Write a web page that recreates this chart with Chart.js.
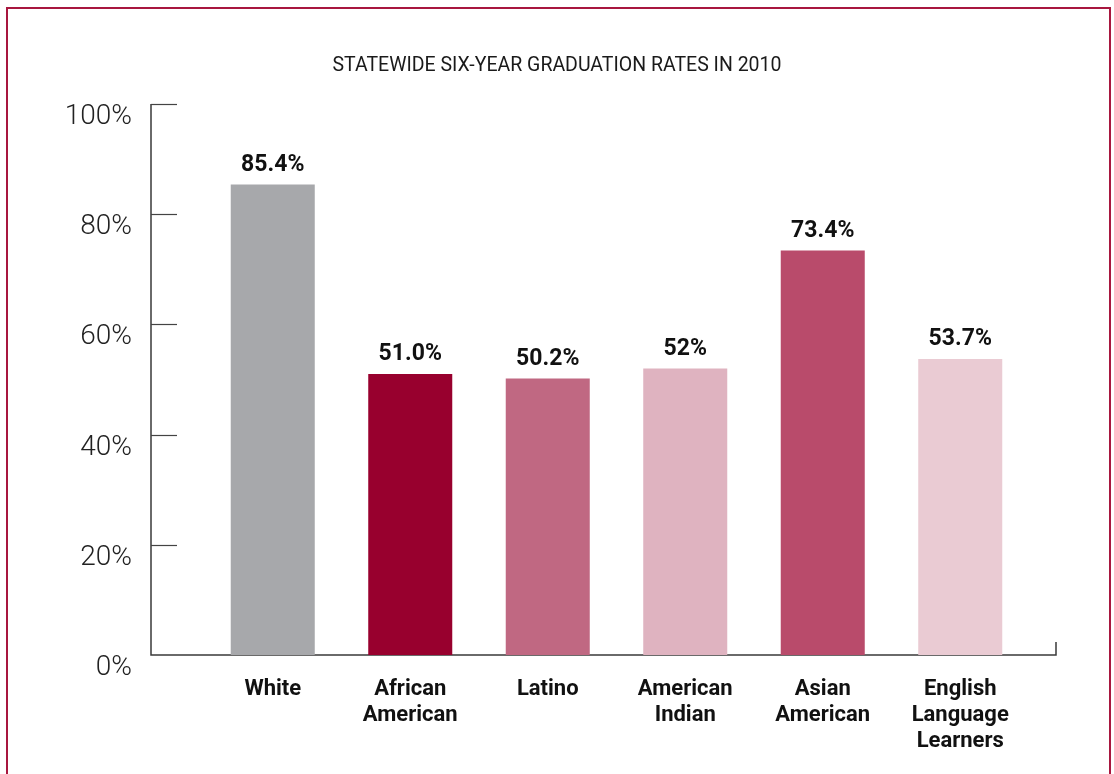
<!DOCTYPE html>
<html>
<head>
<meta charset="utf-8">
<script src="https://cdn.jsdelivr.net/npm/chart.js@4"></script>
<style>
  html, body { margin: 0; padding: 0; background: #ffffff; width: 1114px; height: 774px; overflow: hidden; }
  #frame { position: absolute; left: 6px; top: 7px; width: 1101px; height: 800px;
           border: 2px solid #a8173f; border-bottom: none; }
  #wrap { position: absolute; left: 0; top: 0; width: 1114px; height: 774px; }
</style>
</head>
<body>
<div id="frame"></div>
<div id="wrap"><canvas id="c" width="1114" height="774"></canvas></div>
<script>
const categories = [
  "White",
  ["African", "American"],
  "Latino",
  ["American", "Indian"],
  ["Asian", "American"],
  ["English", "Language", "Learners"]
];
const rates = [85.4, 51.0, 50.2, 52, 73.4, 53.7];
const rateLabels = ["85.4%", "51.0%", "50.2%", "52%", "73.4%", "53.7%"];
const barColors = ["#a7a8ab", "#98002e", "#c06882", "#dfb3c0", "#b94b6b", "#eacbd3"];
const yTicks = [0, 20, 40, 60, 80, 100];
const titleText = "STATEWIDE SIX-YEAR GRADUATION RATES IN 2010";

const FONT = 'Roboto, "Liberation Sans", sans-serif';

const axisPlugin = {
  id: 'axisPlugin',
  beforeDatasetsDraw(chart) {
    const ctx = chart.ctx;
    const y = chart.scales.y;
    const area = chart.chartArea;
    const axisX = area.left - 53;
    const axisRight = area.right + 27;
    const y0 = y.getPixelForValue(0);
    const yTop = y.getPixelForValue(100);
    ctx.save();
    ctx.strokeStyle = '#3a3a3a';
    ctx.lineWidth = 1.5;
    ctx.beginPath();
    ctx.moveTo(axisX, yTop);
    ctx.lineTo(axisX, y0);
    ctx.lineTo(axisRight, y0);
    ctx.lineTo(axisRight, y0 - 13);
    ctx.stroke();
    ctx.lineWidth = 1.2;
    ctx.strokeStyle = '#444';
    yTicks.forEach(v => {
      if (v === 0) return;
      const py = Math.round(y.getPixelForValue(v)) + 0.5;
      ctx.beginPath();
      ctx.moveTo(axisX, py);
      ctx.lineTo(axisX + 26, py);
      ctx.stroke();
    });
    ctx.restore();
  },
  afterDatasetsDraw(chart) {
    const ctx = chart.ctx;
    const meta = chart.getDatasetMeta(0);
    ctx.save();
    ctx.fillStyle = '#111';
    ctx.font = 'bold 23px ' + FONT;
    ctx.textAlign = 'center';
    ctx.textBaseline = 'bottom';
    meta.data.forEach((bar, i) => {
      ctx.fillText(rateLabels[i], bar.x, bar.y - 8);
    });
    ctx.restore();
  }
};

new Chart(document.getElementById('c'), {
  type: 'bar',
  data: {
    labels: categories,
    datasets: [{
      data: rates,
      backgroundColor: barColors,
      borderWidth: 0,
      categoryPercentage: 1.0,
      barPercentage: 0.611
    }]
  },
  options: {
    responsive: false,
    animation: false,
    devicePixelRatio: 1,
    layout: { padding: 0 },
    plugins: {
      legend: { display: false },
      tooltip: { enabled: false },
      title: {
        display: true,
        text: titleText,
        color: '#1a1a1a',
        font: { family: FONT, size: 19.5, weight: 'normal', lineHeight: 1.2 },
        padding: { top: 54.8, bottom: 25.8 }
      }
    },
    scales: {
      x: {
        afterFit(scale) { scale.height = 119; },
        grid: { display: false, drawTicks: false },
        border: { display: false },
        ticks: {
          color: '#111',
          padding: 22,
          maxRotation: 0,
          autoSkip: false,
          font: { family: FONT, size: 22, weight: 'bold', lineHeight: 1.18 }
        }
      },
      y: {
        min: 0,
        max: 100,
        afterFit(scale) { scale.width = 204; },
        afterBuildTicks(scale) { scale.ticks = yTicks.map(v => ({ value: v })); },
        grid: { display: false, drawTicks: false },
        border: { display: false },
        ticks: {
          color: '#222',
          padding: 72,
          labelOffset: 13,
          font: { family: FONT, size: 28, weight: '300' },
          callback: v => v + '%'
        }
      },
      yRight: {
        position: 'right',
        min: 0,
        max: 100,
        afterFit(scale) { scale.width = 85; },
        grid: { display: false, drawTicks: false },
        border: { display: false },
        ticks: { display: false }
      }
    }
  },
  plugins: [axisPlugin]
});
</script>
</body>
</html>
